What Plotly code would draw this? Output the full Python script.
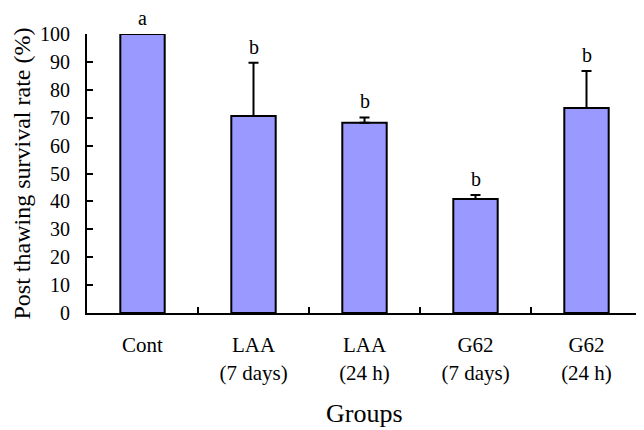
import plotly.graph_objects as go

categories = ["Cont", "LAA<br>(7 days)", "LAA<br>(24 h)", "G62<br>(7 days)", "G62<br>(24 h)"]
survival = [100, 70.6, 68.2, 40.9, 73.5]
err_upper = [0, 19.1, 1.9, 1.4, 13.2]
letters = ["a", "b", "b", "b", "b"]

FONT = "Liberation Serif, Times New Roman, serif"

fig = go.Figure()
fig.add_trace(go.Bar(
    x=categories, y=survival,
    marker=dict(color="#9999FF", line=dict(color="black", width=2)),
    error_y=dict(type="data", symmetric=False, array=err_upper,
                 arrayminus=[0] * len(err_upper),
                 color="black", thickness=2, width=5),
    width=0.4,
))

for c, v, e, t in zip(categories, survival, err_upper, letters):
    fig.add_annotation(x=c, y=v + e, text=t, showarrow=False,
                       yanchor="bottom", yshift=3,
                       font=dict(family=FONT, size=20, color="black"))

# axis titles placed as annotations for exact positioning
fig.add_annotation(text="Groups", xref="paper", yref="paper",
                   x=0.5, y=-0.36, showarrow=False,
                   xanchor="center", yanchor="middle",
                   font=dict(family=FONT, size=26, color="black"))
fig.add_annotation(text="Post thawing survival rate (%)", xref="paper", yref="paper",
                   x=0, y=0.5, xshift=-66, showarrow=False, textangle=-90,
                   xanchor="center", yanchor="middle",
                   font=dict(family=FONT, size=24, color="black"))

# page body has an 8px default margin, so the figure is sized to fit the window
fig.update_layout(
    width=636, height=422,
    margin=dict(l=79, r=2, t=26, b=117),
    paper_bgcolor="white", plot_bgcolor="white",
    showlegend=False,
    font=dict(family=FONT, color="black"),
    xaxis=dict(
        automargin=False,
        showline=True, linecolor="black", linewidth=2,
        ticks="inside", ticklen=6, tickwidth=2, tickcolor="black",
        tickson="boundaries",
        tickfont=dict(family=FONT, size=21),
        ticklabelstandoff=12,
        showgrid=False, zeroline=False,
    ),
    yaxis=dict(
        automargin=False,
        range=[0, 100], dtick=10,
        showline=True, linecolor="black", linewidth=2,
        ticks="inside", ticklen=6, tickwidth=2, tickcolor="black",
        tickfont=dict(family=FONT, size=20),
        ticklabelstandoff=11,
        showgrid=False, zeroline=False,
    ),
)

fig.write_html("out.html")
